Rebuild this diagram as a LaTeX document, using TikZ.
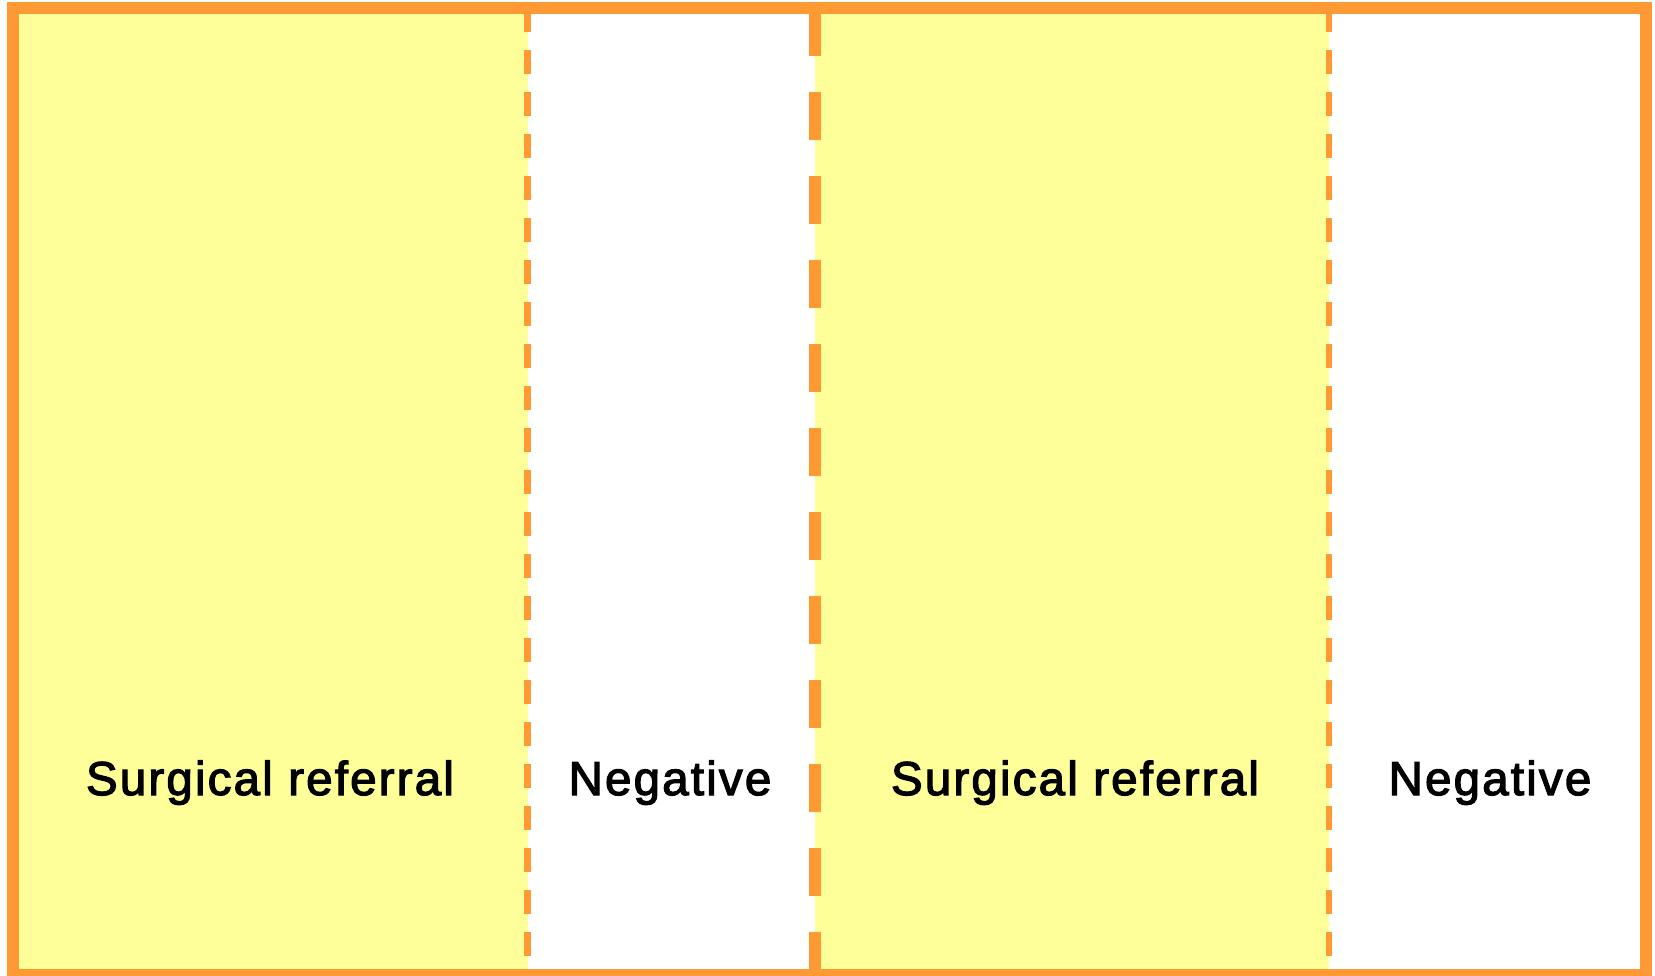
\documentclass[tikz,border=0pt]{standalone}
\usepackage{fontspec}
\setmainfont{Liberation Sans}[FakeBold=2.6, LetterSpace=4.6]
\definecolor{frameorange}{HTML}{FF9933}
\definecolor{paleyellow}{HTML}{FFFF99}
\tikzset{
  panelfill/.style={fill=paleyellow, draw=none},
  outerframe/.style={draw=frameorange, line width=12pt},
  thindash/.style={draw=frameorange, line width=6.5pt, dash pattern=on 24pt off 18pt},
  thickdash/.style={draw=frameorange, line width=12pt, dash pattern=on 48pt off 36pt},
  label/.style={anchor=base, inner sep=0pt, font=\fontsize{47.5}{50}\selectfont, text=black}
}
\begin{document}
\begin{tikzpicture}[x=1pt,y=-1pt]
\useasboundingbox (0,0) rectangle (1655,976);
% yellow panels
\fill[panelfill] (13,8) rectangle (527.5,975);
\fill[panelfill] (815,8) rectangle (1329,975);
% dividers
\coordinate (d1t) at (527.3,8);  \coordinate (d1b) at (527.3,975);
\coordinate (d2t) at (814.7,8);  \coordinate (d2b) at (814.7,975);
\coordinate (d3t) at (1329,8);   \coordinate (d3b) at (1329,975);
\draw[thindash] (d1t) -- (d1b);
\draw[thickdash] (d2t) -- (d2b);
\draw[thindash] (d3t) -- (d3b);
% outer frame
\draw[outerframe] (13.3,8) rectangle (1646.3,975);
% labels
\node[label] (s1) at (270,795) {Surgical referral};
\node[label] (n1) at (670,795) {Negative};
\node[label] (s2) at (1075,795) {Surgical referral};
\node[label] (n2) at (1490,795) {Negative};
\end{tikzpicture}
\end{document}
